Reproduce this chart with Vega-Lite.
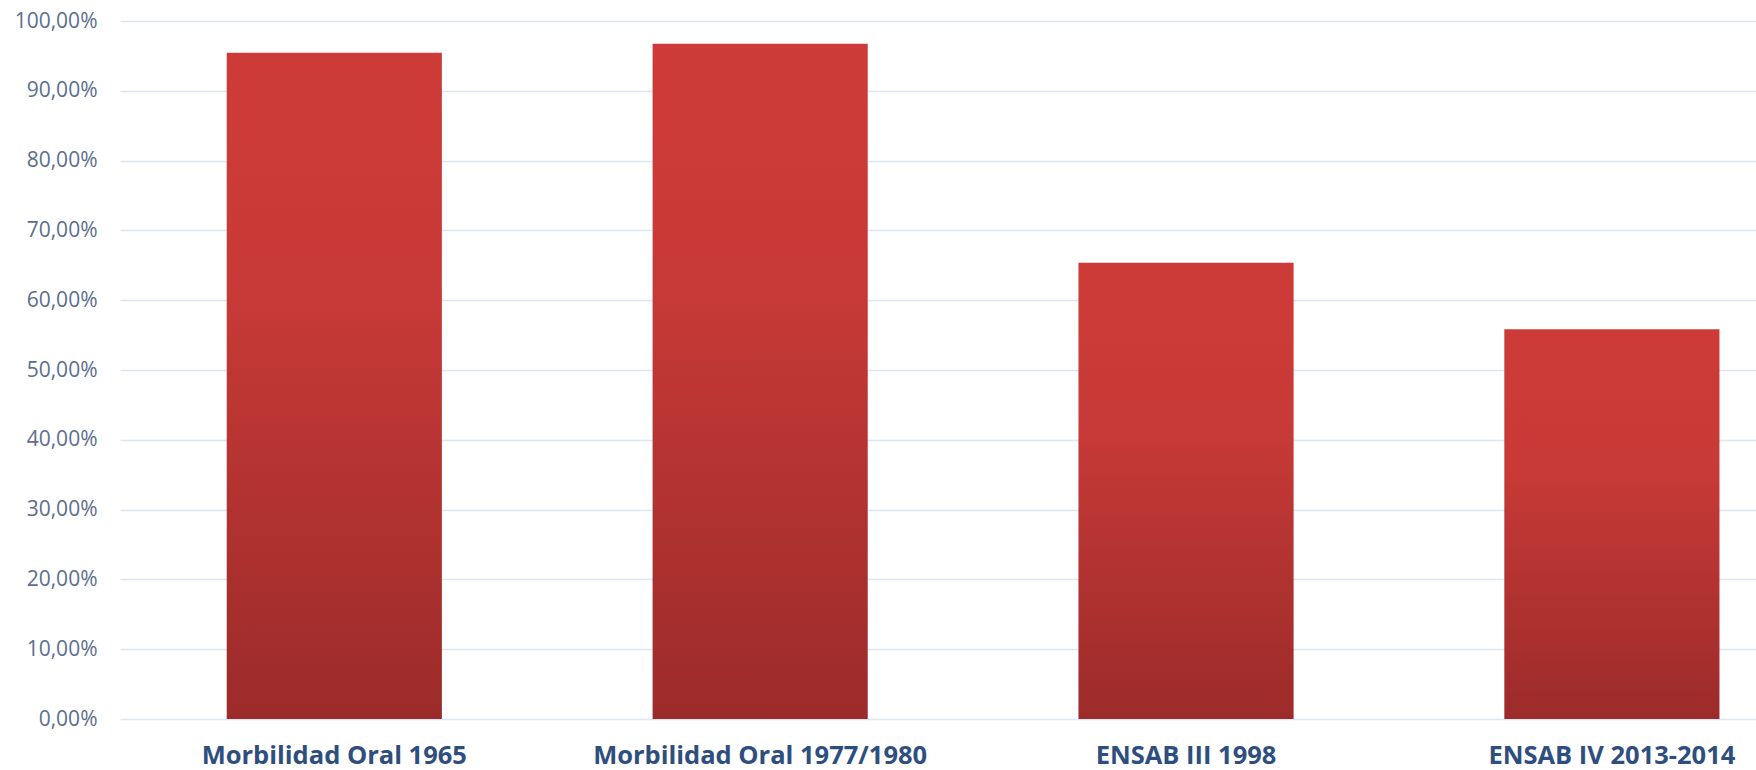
{
  "$schema": "https://vega.github.io/schema/vega-lite/v6.json",
  "autosize": {"type": "none"},
  "width": 1636,
  "height": 698,
  "padding": {"left": 120, "top": 21, "right": 0, "bottom": 51},
  "background": "white",
  "data": {"values": [
    {"estudio": "Morbilidad Oral 1965", "valor": 0.9546},
    {"estudio": "Morbilidad Oral 1977/1980", "valor": 0.9675},
    {"estudio": "ENSAB III 1998", "valor": 0.6537},
    {"estudio": "ENSAB IV 2013-2014", "valor": 0.5583}
  ]},
  "mark": {
    "type": "bar",
    "color": {"gradient": "linear", "x1": 0, "y1": 0, "x2": 0, "y2": 1,
      "stops": [{"offset": 0, "color": "#CD3B38"}, {"offset": 0.35, "color": "#C83A37"}, {"offset": 1, "color": "#9B2B2A"}]}
  },
  "encoding": {
    "x": {
      "field": "estudio", "type": "nominal", "sort": null, "title": null,
      "scale": {"paddingInner": 0.4948, "paddingOuter": 0.1682, "align": 0.745},
      "axis": {"labelAngle": 0, "domain": false, "ticks": false, "grid": false,
        "labelFont": "Open Sans", "labelFontWeight": "bold", "labelFontSize": 25.5,
        "labelColor": "#2E4E7E", "labelPadding": 24, "labelLimit": 0}
    },
    "y": {
      "field": "valor", "type": "quantitative", "title": null,
      "scale": {"domain": [0, 1]},
      "axis": {"values": [0, 0.1, 0.2, 0.3, 0.4, 0.5, 0.6, 0.7, 0.8, 0.9, 1.0],
        "labelExpr": "replace(format(datum.value, '.2%'), '.', ',')",
        "domain": false, "ticks": false, "grid": true, "gridColor": "#DCE6F2", "gridWidth": 1.5,
        "labelFont": "Open Sans", "labelFontSize": 21, "labelColor": "#5B6E8C", "labelPadding": 23}
    }
  },
  "config": {"view": {"stroke": null}}
}
